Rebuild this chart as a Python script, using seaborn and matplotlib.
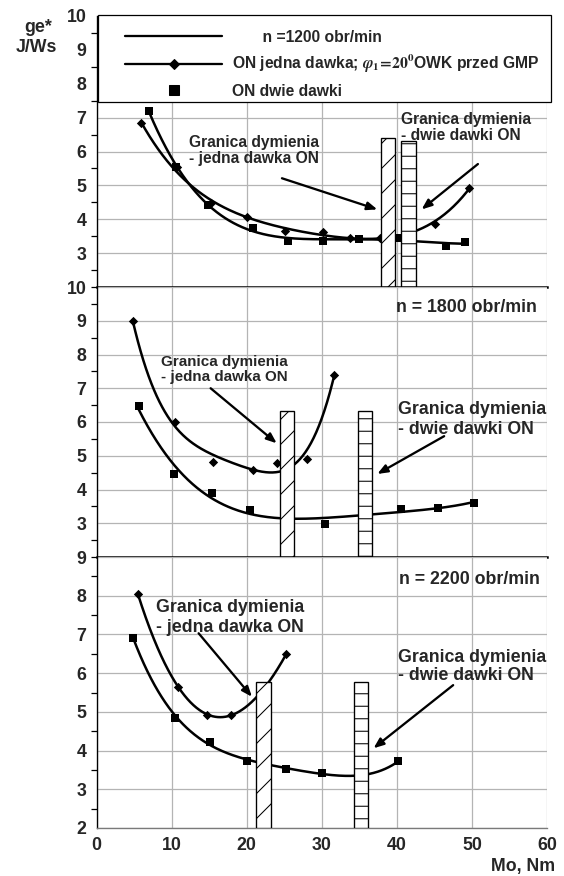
import numpy as np
import matplotlib
matplotlib.use("Agg")
import matplotlib.pyplot as plt
import seaborn as sns
from matplotlib.lines import Line2D
from matplotlib.patches import Rectangle
from matplotlib.ticker import MultipleLocator

# ---------------- data ----------------
# n = 1200 obr/min
x1200_one = [5.9, 10.7, 15.2, 20.0, 25.1, 30.1, 33.8, 37.7, 45.1, 49.6]
y1200_one = [6.83, 5.55, 4.47, 4.06, 3.66, 3.61, 3.46, 3.46, 3.86, 4.93]
x1200_two = [7.0, 10.6, 14.9, 20.9, 25.5, 30.2, 34.9, 40.2, 46.5, 49.1]
y1200_two = [7.19, 5.55, 4.41, 3.75, 3.37, 3.37, 3.42, 3.45, 3.21, 3.32]
# n = 1800 obr/min
x1800_one = [4.8, 10.5, 15.5, 20.9, 24.1, 28.0, 31.6]
y1800_one = [9.0, 5.99, 4.82, 4.59, 4.80, 4.90, 7.40]
x1800_two = [5.6, 10.3, 15.4, 20.4, 30.4, 40.5, 45.5, 50.3]
y1800_two = [6.48, 4.46, 3.90, 3.39, 2.99, 3.41, 3.46, 3.61]
# n = 2200 obr/min
x2200_one = [5.5, 10.9, 14.7, 17.9, 25.3]
y2200_one = [8.05, 5.65, 4.92, 4.92, 6.50]
x2200_two = [4.9, 10.5, 15.1, 20.0, 25.2, 30.0, 40.2]
y2200_two = [6.91, 4.84, 4.23, 3.74, 3.52, 3.42, 3.72]

# smoke limit bars: [left, right, top] (one dose, two doses)
bars1200 = [[37.9, 39.8, 6.39], [40.6, 42.5, 6.32]]
bars1800 = [[24.4, 26.3, 6.33], [34.8, 36.7, 6.33]]
bars2200 = [[21.3, 23.2, 5.77], [34.3, 36.1, 5.78]]

speed_labels = ["n =1200 obr/min", "n = 1800 obr/min", "n = 2200 obr/min"]
label_one = r"ON jedna dawka; $\varphi_1\!=\!20^{\mathbf{0}}$OWK przed GMP"
label_two = "ON dwie dawki"
annot_one = "Granica dymienia\n- jedna dawka ON"
annot_two = "Granica dymienia\n- dwie dawki ON"
x_ticks = [0, 10, 20, 30, 40, 50, 60]

# ---------------- style ----------------
sns.set_style("white")
plt.rcParams["font.family"] = ["Liberation Sans", "DejaVu Sans"]
plt.rcParams["font.weight"] = "bold"
plt.rcParams["mathtext.fontset"] = "stix"
plt.rcParams["hatch.linewidth"] = 1.0
plt.rcParams["hatch.color"] = "black"

W, H, DPI = 564, 876, 75
fig = plt.figure(figsize=(W / DPI, H / DPI), dpi=DPI)

left_px, right_px = 96.5, 547.0
panels_px = [(16, 287), (287, 557), (557, 828)]


def add_ax(top, bot):
    return fig.add_axes([left_px / W, 1 - bot / H, (right_px - left_px) / W, (bot - top) / H])


def fit_curve(ax, xs, ys, order):
    xs = np.asarray(xs, float)
    ys = np.asarray(ys, float)
    coef = np.polyfit(xs, ys, order)
    xx = np.linspace(xs.min(), xs.max(), 300)
    sns.lineplot(x=xx, y=np.polyval(coef, xx), ax=ax, color="black", lw=2.4,
                 sort=False, estimator=None, zorder=3)


def draw_bars(ax, bars, ybot):
    for (l, r, t), h in zip(bars, ["/", "-"]):
        ax.bar((l + r) / 2, t - ybot, bottom=ybot, width=r - l, color="white",
               edgecolor="black", linewidth=1.3, hatch=h, zorder=5)


def arrow(ax, start, end):
    ax.annotate("", xy=end, xytext=start,
                arrowprops=dict(arrowstyle="-|>,head_length=0.8,head_width=0.32",
                                color="black", lw=2.2, shrinkA=0, shrinkB=0),
                zorder=7)


cfg = [
    dict(lim=(2, 10), ticks=range(3, 11), one=(x1200_one, y1200_one, 4),
         two=(x1200_two, y1200_two, 4), bars=bars1200),
    dict(lim=(2, 10), ticks=range(3, 11), one=(x1800_one, y1800_one, 4),
         two=(x1800_two, y1800_two, 4), bars=bars1800),
    dict(lim=(2, 9), ticks=range(2, 10), one=(x2200_one, y2200_one, 3),
         two=(x2200_two, y2200_two, 4), bars=bars2200),
]

axes = []
for i, (c, (t, b)) in enumerate(zip(cfg, panels_px)):
    ax = add_ax(t, b)
    axes.append(ax)
    ax.set_xlim(0, 60)
    ax.set_ylim(*c["lim"])
    ax.set_yticks(list(c["ticks"]))
    ax.yaxis.set_minor_locator(MultipleLocator(0.5))
    ax.set_xticks(x_ticks)
    ax.xaxis.set_minor_locator(MultipleLocator(5))
    ax.grid(True, which="major", color="#b4b4b4", lw=1.2, zorder=0)
    ax.set_axisbelow(True)
    for s in ["top", "right"]:
        ax.spines[s].set_visible(False)
    ax.spines["left"].set_color("black")
    ax.spines["left"].set_linewidth(1.3)
    ax.tick_params(axis="y", which="major", direction="out", length=7.5, width=1.2,
                   color="black", labelsize=17, pad=2)
    ax.tick_params(axis="y", which="minor", direction="out", length=5.5, width=1.2,
                   color="black", left=True)
    if i < 2:
        ax.spines["bottom"].set_color("black")
        ax.spines["bottom"].set_linewidth(2.4)
        ax.spines["bottom"].set_zorder(6)
        ax.tick_params(axis="x", which="both", bottom=False, labelbottom=False)
    else:
        ax.spines["bottom"].set_color("#7a7a7a")
        ax.spines["bottom"].set_linewidth(1.3)
        ax.tick_params(axis="x", which="both", direction="out", length=5, width=1.2,
                       color="#555555", labelsize=17, pad=4)
    for lab in ax.get_yticklabels() + ax.get_xticklabels():
        lab.set_fontweight("bold")

    xo, yo, oo = c["one"]
    xt, yt, ot = c["two"]
    fit_curve(ax, xo, yo, oo)
    fit_curve(ax, xt, yt, ot)
    sns.scatterplot(x=xo, y=yo, ax=ax, marker="D", s=40, color="black",
                    edgecolor="black", linewidth=0, zorder=4)
    sns.scatterplot(x=xt, y=yt, ax=ax, marker="s", s=62, color="black",
                    edgecolor="black", linewidth=0, zorder=4)
    draw_bars(ax, c["bars"], c["lim"][0])
    ax.set_xlabel("")
    ax.set_ylabel("")

ax1, ax2, ax3 = axes

# ---- top panel: legend box ----
frame = Rectangle((0.003, (7.47 - 2) / 8), 1.006, 1.005 - (7.47 - 2) / 8,
                  transform=ax1.transAxes, facecolor="white", edgecolor="black",
                  lw=1.2, zorder=8, clip_on=False)
ax1.add_patch(frame)
handles = [
    Line2D([], [], color="black", lw=2.2),
    Line2D([], [], color="black", lw=2.2, marker="D", ms=7),
    Line2D([], [], color="black", lw=0, marker="s", ms=9),
]
labels = ["       " + speed_labels[0], label_one, label_two]
leg = ax1.legend(handles, labels, loc="upper left", bbox_to_anchor=(3.86 / 60, 0.95),
                 frameon=False, borderpad=0, borderaxespad=0, handlelength=6.2,
                 handletextpad=0.6, labelspacing=0.55, prop=dict(size=15, weight="bold"))
leg.set_zorder(9)

txt = dict(fontweight="bold", zorder=8)
ax1.text(12.3, 6.04, annot_one, fontsize=15, ha="left", va="center", linespacing=1.1, **txt)
ax1.text(40.6, 6.72, annot_two, fontsize=15, ha="left", va="center", linespacing=1.1, **txt)
arrow(ax1, (24.7, 5.21), (37.4, 4.29))
arrow(ax1, (50.8, 5.63), (43.3, 4.29))

# ---- middle panel ----
ax2.text(58.7, 9.38, speed_labels[1], fontsize=17, ha="right", va="center", **txt)
ax2.text(8.6, 7.56, annot_one, fontsize=14.5, ha="left", va="center", linespacing=1.15, **txt)
ax2.text(40.1, 6.07, annot_two, fontsize=17, ha="left", va="center", linespacing=1.25, **txt)
arrow(ax2, (15.2, 7.0), (24.0, 5.37))
arrow(ax2, (46.3, 5.58), (37.4, 4.46))

# ---- bottom panel ----
ax3.text(59.0, 8.42, speed_labels[2], fontsize=17, ha="right", va="center", **txt)
ax3.text(7.86, 7.43, annot_one, fontsize=17, ha="left", va="center", linespacing=1.2, **txt)
ax3.text(40.2, 6.17, annot_two, fontsize=17, ha="left", va="center", linespacing=1.1, **txt)
arrow(ax3, (13.6, 7.03), (20.7, 5.39))
arrow(ax3, (47.5, 5.69), (36.9, 4.06))

# axis titles
fig.text(38 / W, 1 - 27 / H, "ge*", fontsize=17, fontweight="bold", ha="center", va="center")
fig.text(36 / W, 1 - 48 / H, "J/Ws", fontsize=17, fontweight="bold", ha="center", va="center")
fig.text(555 / W, 1 - 867 / H, "Mo, Nm", fontsize=17, fontweight="bold", ha="right", va="center")

fig.savefig("out.png", dpi=DPI, facecolor="white")
